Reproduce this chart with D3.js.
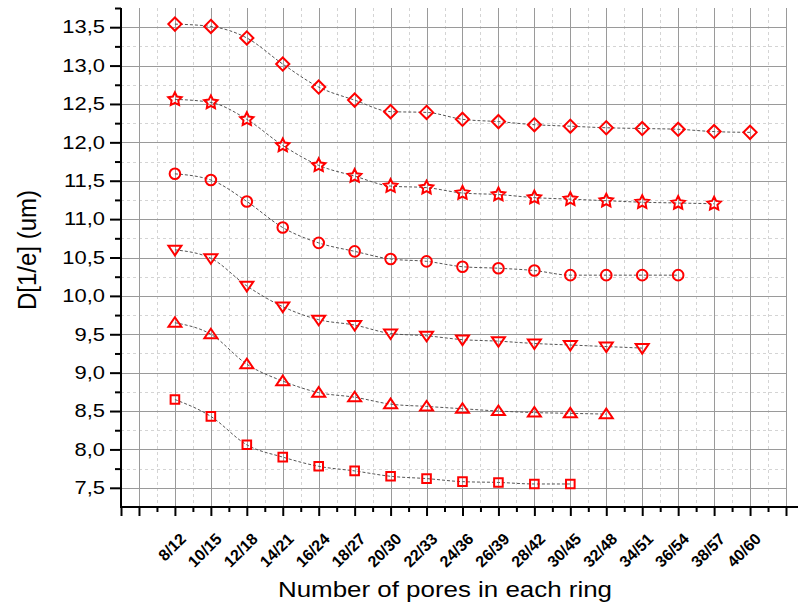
<!DOCTYPE html>
<html lang="en">

<head>
    <meta charset="UTF-8">
    <title>Pore diameter</title>
    <script src="https://d3js.org/d3.v7.min.js"></script>
</head>

<style>
    body { margin: 0; background: #fff; }
    svg text { font-family: "Liberation Sans", Arial, sans-serif; fill: #000; }
</style>

<body>
    <svg id="chart"></svg>
</body>

<script>
    // Data
    var categories = ["8/12", "10/15", "12/18", "14/21", "16/24", "18/27", "20/30", "22/33", "24/36",
        "26/39", "28/42", "30/45", "32/48", "34/51", "36/54", "38/57", "40/60"];

    var diamondVals = [13.54, 13.51, 13.36, 13.02, 12.72, 12.55, 12.40, 12.39, 12.30, 12.27, 12.23, 12.21, 12.19, 12.18, 12.17, 12.14, 12.13];
    var starVals = [12.56, 12.52, 12.30, 11.96, 11.70, 11.56, 11.43, 11.41, 11.34, 11.32, 11.28, 11.26, 11.24, 11.22, 11.21, 11.20];
    var circleVals = [11.59, 11.51, 11.23, 10.89, 10.69, 10.58, 10.48, 10.45, 10.38, 10.36, 10.33, 10.27, 10.27, 10.27, 10.27];
    var downVals = [10.60, 10.49, 10.13, 9.86, 9.69, 9.62, 9.51, 9.48, 9.43, 9.41, 9.38, 9.36, 9.34, 9.32];
    var upVals = [9.65, 9.50, 9.11, 8.89, 8.74, 8.68, 8.59, 8.56, 8.53, 8.50, 8.48, 8.47, 8.46];
    var squareVals = [8.65, 8.43, 8.06, 7.90, 7.78, 7.72, 7.65, 7.62, 7.58, 7.57, 7.55, 7.55];

    var yMajor = [7.5, 8.0, 8.5, 9.0, 9.5, 10.0, 10.5, 11.0, 11.5, 12.0, 12.5, 13.0, 13.5];

    // Constants
    var W = 798, H = 611;
    var plotL = 121, plotR = 786, plotT = 8, plotB = 507;

    var svg = d3.select("#chart").attr("width", W).attr("height", H);

    // x: categories sit on 2..18, axis runs from 0.5 to 19
    var x = d3.scaleLinear().domain([0.5, 19]).range([plotL, plotR]);
    var y = d3.scaleLinear().domain([7.25, 13.75]).range([plotB, plotT]);

    var xMajorTicks = d3.range(1, 20);
    var xMinorTicks = d3.range(1.5, 19, 1);
    var yMinorTicks = d3.range(7.75, 13.8, 0.5);

    // Grid
    var grid = svg.append("g");
    grid.selectAll(".vminor").data(xMinorTicks).enter().append("line")
        .attr("x1", d => Math.round(x(d)) + 0.5).attr("x2", d => Math.round(x(d)) + 0.5)
        .attr("y1", plotT).attr("y2", plotB)
        .attr("stroke", "#d4d4d4").attr("stroke-dasharray", "3,3");
    grid.selectAll(".hminor").data(yMinorTicks.filter(d => d < 13.7)).enter().append("line")
        .attr("y1", d => Math.round(y(d)) + 0.5).attr("y2", d => Math.round(y(d)) + 0.5)
        .attr("x1", plotL).attr("x2", plotR)
        .attr("stroke", "#d4d4d4").attr("stroke-dasharray", "3,3");
    grid.selectAll(".vmajor").data(xMajorTicks).enter().append("line")
        .attr("x1", d => Math.round(x(d)) + 0.5).attr("x2", d => Math.round(x(d)) + 0.5)
        .attr("y1", plotT).attr("y2", plotB)
        .attr("stroke", "#9a9a9a");
    grid.selectAll(".hmajor").data(yMajor).enter().append("line")
        .attr("y1", d => Math.round(y(d)) + 0.5).attr("y2", d => Math.round(y(d)) + 0.5)
        .attr("x1", plotL).attr("x2", plotR)
        .attr("stroke", "#9a9a9a");

    // Axes
    var commaLocale = d3.formatLocale({ decimal: ",", thousands: ".", grouping: [3], currency: ["", ""] });
    var fmt = commaLocale.format(".1f");

    var yAxis = svg.append("g")
        .attr("transform", "translate(" + plotL + ",0)")
        .call(d3.axisLeft(y).tickValues(yMajor).tickSize(11).tickPadding(5).tickFormat(fmt));
    svg.append("g")
        .attr("transform", "translate(" + plotL + ",0)")
        .call(d3.axisLeft(y).tickValues(yMinorTicks).tickSize(6).tickFormat(""));

    var xAxis = svg.append("g")
        .attr("transform", "translate(0," + plotB + ")")
        .call(d3.axisBottom(x).tickValues(xMajorTicks.concat([0.5])).tickSize(9)
            .tickFormat(d => (d >= 2 && d <= 18) ? categories[d - 2] : ""));
    svg.append("g")
        .attr("transform", "translate(0," + plotB + ")")
        .call(d3.axisBottom(x).tickValues(xMinorTicks).tickSize(5).tickFormat(""));

    svg.selectAll(".domain").remove();
    svg.selectAll(".tick line").attr("stroke", "#000").attr("stroke-width", 2);

    // axis lines
    svg.append("line").attr("x1", plotL).attr("x2", plotL).attr("y1", plotT).attr("y2", plotB + 1)
        .attr("stroke", "#000").attr("stroke-width", 2);
    svg.append("line").attr("x1", plotL - 1).attr("x2", W).attr("y1", plotB).attr("y2", plotB)
        .attr("stroke", "#000").attr("stroke-width", 2);

    yAxis.selectAll("text")
        .attr("x", -16 / 1.22)
        .attr("transform", "scale(1.22,1)")
        .style("font-size", "18px");

    xAxis.selectAll("text")
        .attr("x", 0).attr("y", 0).attr("dy", 0)
        .attr("text-anchor", "end")
        .attr("transform", "translate(11.5,33) rotate(-45)")
        .style("font-size", "16px")
        .style("font-weight", "bold");

    // Axis titles
    svg.append("text")
        .attr("x", 445).attr("y", 597)
        .attr("text-anchor", "middle")
        .attr("textLength", 334).attr("lengthAdjust", "spacingAndGlyphs")
        .style("font-size", "22px")
        .text("Number of pores in each ring");

    svg.append("text")
        .attr("text-anchor", "middle")
        .attr("transform", "translate(36,250) scale(1.09,1) rotate(-90)")
        .style("font-size", "24px")
        .text("D[1/e] (um)");

    // Marker shapes, size = half width
    var shapes = {
        diamond: { draw: (c, r) => { c.moveTo(0, -r); c.lineTo(r, 0); c.lineTo(0, r); c.lineTo(-r, 0); c.closePath(); } },
        square: { draw: (c, r) => { c.rect(-r, -r, 2 * r, 2 * r); } },
        circle: { draw: (c, r) => { c.moveTo(r, 0); c.arc(0, 0, r, 0, 2 * Math.PI); } },
        up: { draw: (c, r) => { c.moveTo(0, -r * 0.85); c.lineTo(r, r * 0.62); c.lineTo(-r, r * 0.62); c.closePath(); } },
        down: { draw: (c, r) => { c.moveTo(0, r * 0.85); c.lineTo(r, -r * 0.62); c.lineTo(-r, -r * 0.62); c.closePath(); } },
        star: {
            draw: (c, r) => {
                var ri = r * 0.5;
                for (var i = 0; i < 10; i++) {
                    var a = -Math.PI / 2 + i * Math.PI / 5, rr = i % 2 ? ri : r;
                    if (i == 0) c.moveTo(rr * Math.cos(a), rr * Math.sin(a));
                    else c.lineTo(rr * Math.cos(a), rr * Math.sin(a));
                }
                c.closePath();
            }
        }
    };

    var series = [
        { vals: diamondVals, shape: shapes.diamond, size: 6.6 },
        { vals: starVals, shape: shapes.star, size: 7 },
        { vals: circleVals, shape: shapes.circle, size: 5.3 },
        { vals: downVals, shape: shapes.down, size: 6.5 },
        { vals: upVals, shape: shapes.up, size: 6.5 },
        { vals: squareVals, shape: shapes.square, size: 4.3 }
    ];

    var line = d3.line()
        .x((d, i) => x(i + 2))
        .y(d => y(d))
        .curve(d3.curveMonotoneX);

    series.forEach(s => {
        svg.append("path")
            .datum(s.vals)
            .attr("d", line)
            .attr("fill", "none")
            .attr("stroke", "#555")
            .attr("stroke-width", 1)
            .attr("stroke-dasharray", "3,2");
    });

    series.forEach(s => {
        svg.append("g").selectAll("path")
            .data(s.vals)
            .enter()
            .append("path")
            .attr("transform", (d, i) => "translate(" + x(i + 2) + "," + y(d) + ")")
            .attr("d", d3.symbol().type(s.shape).size(s.size))
            .attr("fill", "none")
            .attr("stroke", "#ff0000")
            .attr("stroke-width", 2);
    });
</script>

</html>
